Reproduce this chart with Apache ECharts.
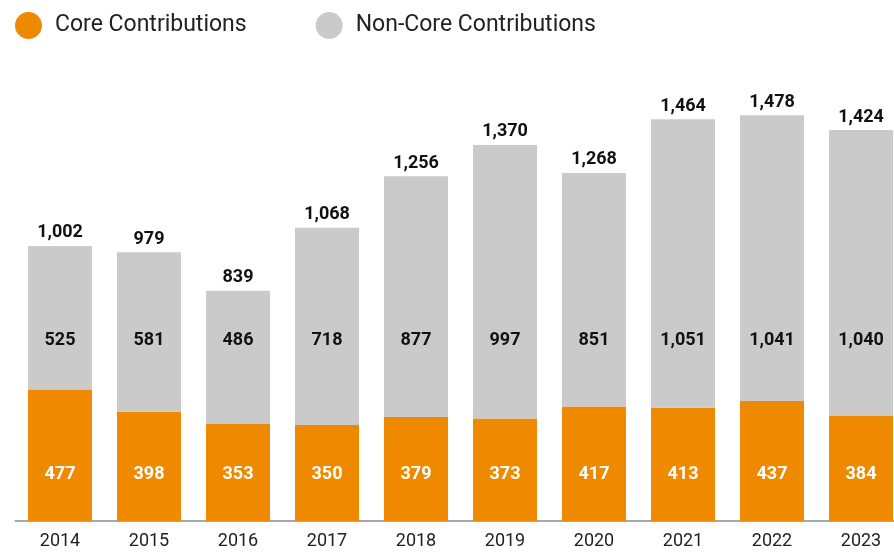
<!DOCTYPE html>
<html>
<head>
<meta charset="utf-8">
<script src="https://cdn.jsdelivr.net/npm/echarts@6/dist/echarts.min.js"></script>
<style>
html,body{margin:0;padding:0;background:#fff;}
#chart{width:894px;height:553px;}
</style>
</head>
<body>
<div id="chart"></div>
<script>
const years = ['2014','2015','2016','2017','2018','2019','2020','2021','2022','2023'];
const coreValues = [477, 398, 353, 350, 379, 373, 417, 413, 437, 384];
const nonCoreValues = [525, 581, 486, 718, 877, 997, 851, 1051, 1041, 1040];
const seriesNames = ['Core Contributions', 'Non-Core Contributions'];

const fmt = v => v.toLocaleString('en-US');
const totals = coreValues.map((v, i) => v + nonCoreValues[i]);

const chart = echarts.init(document.getElementById('chart'));
chart.setOption({
  animation: false,
  textStyle: { fontFamily: 'Roboto' },
  legend: {
    left: 10, top: 7,
    itemWidth: 27, itemHeight: 27,
    itemGap: 69,
    icon: 'circle',
    textStyle: { fontFamily: 'Roboto', fontSize: 23, color: '#222', padding: [0, 0, 0, 8] },
    data: seriesNames
  },
  grid: { left: 15.5, width: 890, top: 81.8, height: 439.2, outerBoundsMode: 'none', containLabel: false },
  xAxis: {
    type: 'category',
    data: years,
    axisLine: { show: true, lineStyle: { color: '#a8a8a8', width: 2 } },
    axisTick: { show: false },
    axisLabel: { color: '#222', fontSize: 18, fontFamily: 'Roboto', margin: 11 }
  },
  yAxis: {
    type: 'value', min: 0, max: 1600, show: false,
    splitLine: { show: false }
  },
  series: [
    {
      name: seriesNames[0],
      type: 'bar',
      stack: 'total',
      barWidth: 64,
      itemStyle: { color: '#EF8A00' },
      data: coreValues,
      label: {
        show: true,
        position: 'insideBottom',
        distance: 37,
        formatter: p => '{nc|' + fmt(nonCoreValues[p.dataIndex]) + '}\n{sp| }\n{c|' + fmt(p.value) + '}',
        rich: {
          nc: { fontFamily: 'Roboto', fontSize: 18, fontWeight: 'bold', color: '#111', lineHeight: 20 },
          sp: { fontSize: 10, lineHeight: 114 },
          c: { fontFamily: 'Roboto', fontSize: 18, fontWeight: 'bold', color: '#fff', lineHeight: 20 }
        }
      }
    },
    {
      name: seriesNames[1],
      type: 'bar',
      stack: 'total',
      barWidth: 64,
      itemStyle: { color: '#CACACA' },
      data: nonCoreValues,
      label: {
        show: true,
        position: 'top',
        distance: 4,
        fontFamily: 'Roboto', fontSize: 18, fontWeight: 'bold', color: '#111',
        formatter: p => fmt(totals[p.dataIndex])
      }
    }
  ]
});
</script>
</body>
</html>
